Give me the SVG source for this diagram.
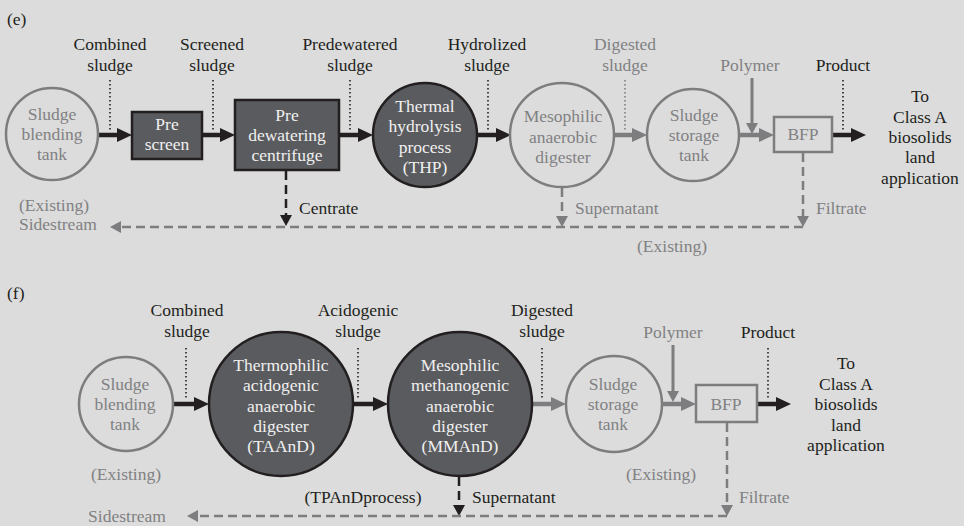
<svg xmlns="http://www.w3.org/2000/svg" width="964" height="526" viewBox="0 0 964 526" font-family="'Liberation Serif', 'DejaVu Serif', serif" font-size="17.5">
  <style>
    text { font-family: 'Liberation Serif', 'DejaVu Serif', serif; font-size: 17.5px; text-anchor: middle; }
    .l { text-anchor: start; }
    .dk { fill: #231f20; }
    .gy { fill: #818183; }
    .wt { fill: #f0f0f0; }
    .unitD { fill: #5a5b5e; stroke: #231f20; stroke-width: 2.5; }
    .unitG { fill: none; stroke: #7d7d7f; stroke-width: 2.5; }
    .flowD { stroke: #231f20; stroke-width: 4.5; fill: none; }
    .flowG { stroke: #7d7d7f; stroke-width: 4.5; fill: none; }
    .feedG { stroke: #7d7d7f; stroke-width: 3; fill: none; }
    .dashD { stroke: #231f20; stroke-width: 2.5; stroke-dasharray: 9 5; fill: none; }
    .dashG { stroke: #7d7d7f; stroke-width: 2.5; stroke-dasharray: 9 5; fill: none; }
    .dotD { stroke: #231f20; stroke-width: 1.6; stroke-dasharray: 1.4 2.6; fill: none; }
    .dotG { stroke: #7d7d7f; stroke-width: 1.6; stroke-dasharray: 1.4 2.6; fill: none; }
  </style>
  <defs>
    <marker id="headD" viewBox="0 0 15 14" refX="0" refY="7" markerWidth="15" markerHeight="14" markerUnits="userSpaceOnUse" orient="auto">
      <path d="M0,0 L15,7 L0,14 z" fill="#231f20"/>
    </marker>
    <marker id="headG" viewBox="0 0 15 14" refX="0" refY="7" markerWidth="15" markerHeight="14" markerUnits="userSpaceOnUse" orient="auto">
      <path d="M0,0 L15,7 L0,14 z" fill="#7d7d7f"/>
    </marker>
    <marker id="smallD" viewBox="0 0 11 12" refX="0" refY="6" markerWidth="11" markerHeight="12" markerUnits="userSpaceOnUse" orient="auto">
      <path d="M0,0 L11,6 L0,12 z" fill="#231f20"/>
    </marker>
    <marker id="smallG" viewBox="0 0 11 12" refX="0" refY="6" markerWidth="11" markerHeight="12" markerUnits="userSpaceOnUse" orient="auto">
      <path d="M0,0 L11,6 L0,12 z" fill="#7d7d7f"/>
    </marker>
  </defs>

  <rect width="964" height="526" fill="#dcdcdc"/>

  <!-- ===== Panel (e): THP ahead of mesophilic digestion ===== -->
  <text class="dk l" x="7" y="25">(e)</text>

  <g id="e-labels">
    <text class="dk" x="110" y="50">Combined</text>
    <text class="dk" x="110" y="71">sludge</text>
    <text class="dk" x="212" y="50">Screened</text>
    <text class="dk" x="212" y="71">sludge</text>
    <text class="dk" x="350" y="50">Predewatered</text>
    <text class="dk" x="350" y="71">sludge</text>
    <text class="dk" x="487" y="50">Hydrolized</text>
    <text class="dk" x="487" y="71">sludge</text>
    <text class="gy" x="625" y="50">Digested</text>
    <text class="gy" x="625" y="71">sludge</text>
    <text class="gy" x="750" y="71">Polymer</text>
    <text class="dk" x="843" y="71">Product</text>
    <text class="dk" x="920" y="102">To</text>
    <text class="dk" x="920" y="123">Class A</text>
    <text class="dk" x="920" y="143">biosolids</text>
    <text class="dk" x="920" y="163">land</text>
    <text class="dk" x="920" y="184">application</text>
    <text class="gy l" x="19" y="211">(Existing)</text>
    <text class="gy l" x="19" y="230">Sidestream</text>
    <text class="dk l" x="299" y="214">Centrate</text>
    <text class="gy l" x="575" y="214">Supernatant</text>
    <text class="gy l" x="816" y="214">Filtrate</text>
    <text class="gy" x="672" y="252">(Existing)</text>
  </g>

  <g id="e-connectors">
    <line class="dotD" x1="110" y1="80" x2="110" y2="131"/>
    <line class="dotD" x1="213" y1="80" x2="213" y2="131"/>
    <line class="dotD" x1="350" y1="80" x2="350" y2="131"/>
    <line class="dotD" x1="488" y1="80" x2="488" y2="131"/>
    <line class="dotG" x1="625" y1="80" x2="625" y2="131"/>
    <line class="dotD" x1="843" y1="80" x2="843" y2="131"/>
    <line class="flowD" x1="98" y1="135" x2="117" y2="135" marker-end="url(#headD)"/>
    <line class="flowD" x1="202" y1="135" x2="220" y2="135" marker-end="url(#headD)"/>
    <line class="flowD" x1="339" y1="135" x2="358" y2="135" marker-end="url(#headD)"/>
    <line class="flowD" x1="477" y1="135" x2="496" y2="135" marker-end="url(#headD)"/>
    <line class="flowG" x1="614" y1="135" x2="632" y2="135" marker-end="url(#headG)"/>
    <line class="flowG" x1="740" y1="135" x2="759" y2="135" marker-end="url(#headG)"/>
    <line class="flowD" x1="832" y1="135" x2="851" y2="135" marker-end="url(#headD)"/>
    <line class="feedG" x1="752" y1="78" x2="752" y2="123" marker-end="url(#smallG)"/>
    <line class="dashD" x1="286" y1="171" x2="286" y2="215" marker-end="url(#smallD)"/>
    <line class="dashG" x1="562" y1="188" x2="562" y2="216" marker-end="url(#smallG)"/>
    <line class="dashG" x1="803" y1="153" x2="803" y2="216" marker-end="url(#smallG)"/>
    <line class="dashG" x1="803" y1="227" x2="121" y2="227" marker-end="url(#smallG)"/>
  </g>

  <g id="e-blend-tank">
    <circle class="unitG" cx="52" cy="134" r="46"/>
    <text class="gy" x="52" y="120">Sludge</text>
    <text class="gy" x="52" y="140">blending</text>
    <text class="gy" x="52" y="160">tank</text>
  </g>
  <g id="e-prescreen">
    <rect class="unitD" x="132" y="112" width="70" height="47"/>
    <text class="wt" x="167" y="130">Pre</text>
    <text class="wt" x="167" y="150">screen</text>
  </g>
  <g id="e-centrifuge">
    <rect class="unitD" x="235" y="100" width="104" height="70"/>
    <text class="wt" x="287" y="121">Pre</text>
    <text class="wt" x="287" y="141">dewatering</text>
    <text class="wt" x="287" y="161">centrifuge</text>
  </g>
  <g id="e-thp">
    <circle class="unitD" cx="425" cy="135" r="52"/>
    <text class="wt" x="425" y="112">Thermal</text>
    <text class="wt" x="425" y="132">hydrolysis</text>
    <text class="wt" x="425" y="153">process</text>
    <text class="wt" x="425" y="173">(THP)</text>
  </g>
  <g id="e-digester">
    <circle class="unitG" cx="562" cy="135" r="52"/>
    <text class="gy" x="563" y="122">Mesophilic</text>
    <text class="gy" x="563" y="143">anaerobic</text>
    <text class="gy" x="563" y="163">digester</text>
  </g>
  <g id="e-storage">
    <circle class="unitG" cx="693" cy="135" r="46"/>
    <text class="gy" x="694" y="121">Sludge</text>
    <text class="gy" x="694" y="141">storage</text>
    <text class="gy" x="694" y="161">tank</text>
  </g>
  <g id="e-bfp">
    <rect class="unitG" x="774" y="117" width="58" height="35"/>
    <text class="gy" x="803" y="140">BFP</text>
  </g>

  <!-- ===== Panel (f): temperature-phased anaerobic digestion ===== -->
  <text class="dk l" x="7" y="299">(f)</text>

  <g id="f-labels">
    <text class="dk" x="187" y="316">Combined</text>
    <text class="dk" x="187" y="337">sludge</text>
    <text class="dk" x="358" y="316">Acidogenic</text>
    <text class="dk" x="358" y="337">sludge</text>
    <text class="dk" x="542" y="316">Digested</text>
    <text class="dk" x="542" y="337">sludge</text>
    <text class="gy" x="673" y="338">Polymer</text>
    <text class="dk" x="768" y="338">Product</text>
    <text class="dk" x="846" y="369">To</text>
    <text class="dk" x="846" y="390">Class A</text>
    <text class="dk" x="846" y="410">biosolids</text>
    <text class="dk" x="846" y="431">land</text>
    <text class="dk" x="846" y="451">application</text>
    <text class="gy" x="126" y="480">(Existing)</text>
    <text class="gy" x="661" y="480">(Existing)</text>
    <text class="dk" x="363" y="503">(TPAnDprocess)</text>
    <text class="dk l" x="472" y="503">Supernatant</text>
    <text class="gy l" x="739" y="503">Filtrate</text>
    <text class="gy" x="127" y="522">Sidestream</text>
  </g>

  <g id="f-connectors">
    <line class="dotD" x1="186" y1="348" x2="186" y2="400"/>
    <line class="dotD" x1="358" y1="348" x2="358" y2="400"/>
    <line class="dotD" x1="542" y1="348" x2="542" y2="400"/>
    <line class="dotD" x1="768" y1="348" x2="768" y2="400"/>
    <line class="flowD" x1="174" y1="404" x2="194" y2="404" marker-end="url(#headD)"/>
    <line class="flowD" x1="353" y1="404" x2="373" y2="404" marker-end="url(#headD)"/>
    <line class="flowG" x1="531" y1="404" x2="551" y2="404" marker-end="url(#headG)"/>
    <line class="flowG" x1="662" y1="404" x2="681" y2="404" marker-end="url(#headG)"/>
    <line class="flowD" x1="757" y1="404" x2="776" y2="404" marker-end="url(#headD)"/>
    <line class="feedG" x1="673" y1="345" x2="673" y2="391" marker-end="url(#smallG)"/>
    <line class="dashD" x1="459" y1="477" x2="459" y2="505" marker-end="url(#smallD)"/>
    <line class="dashG" x1="727" y1="423" x2="727" y2="505" marker-end="url(#smallG)"/>
    <line class="dashG" x1="727" y1="516" x2="198" y2="516" marker-end="url(#smallG)"/>
  </g>

  <g id="f-blend-tank">
    <circle class="unitG" cx="126" cy="404" r="47"/>
    <text class="gy" x="125" y="390">Sludge</text>
    <text class="gy" x="125" y="410">blending</text>
    <text class="gy" x="125" y="430">tank</text>
  </g>
  <g id="f-taand">
    <circle class="unitD" cx="281" cy="404" r="72"/>
    <text class="wt" x="281" y="371">Thermophilic</text>
    <text class="wt" x="281" y="391">acidogenic</text>
    <text class="wt" x="281" y="412">anaerobic</text>
    <text class="wt" x="281" y="432">digester</text>
    <text class="wt" x="281" y="452">(TAAnD)</text>
  </g>
  <g id="f-mmand">
    <circle class="unitD" cx="460" cy="404" r="72"/>
    <text class="wt" x="460" y="371">Mesophilic</text>
    <text class="wt" x="460" y="391">methanogenic</text>
    <text class="wt" x="460" y="412">anaerobic</text>
    <text class="wt" x="460" y="432">digester</text>
    <text class="wt" x="460" y="452">(MMAnD)</text>
  </g>
  <g id="f-storage">
    <circle class="unitG" cx="614" cy="404" r="48"/>
    <text class="gy" x="613" y="390">Sludge</text>
    <text class="gy" x="613" y="410">storage</text>
    <text class="gy" x="613" y="430">tank</text>
  </g>
  <g id="f-bfp">
    <rect class="unitG" x="696" y="385" width="61" height="37"/>
    <text class="gy" x="726" y="410">BFP</text>
  </g>
</svg>
